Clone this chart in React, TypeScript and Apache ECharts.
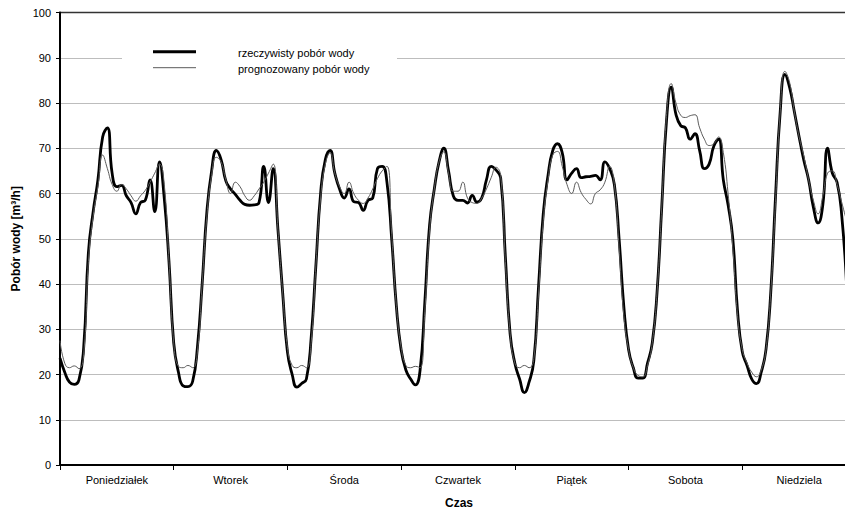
import React, { useEffect, useRef } from "react";
import * as echarts from "echarts";

// Categories (days of the week)
const days = ["Poniedziałek", "Wtorek", "Środa", "Czwartek", "Piątek", "Sobota", "Niedziela"];
const hoursPerDay = 24;
const yTicks = { min: 0, max: 100, step: 10 };

// rzeczywisty pobór wody (hourly, m3/h)
const actualMon = [23.6, 20.5, 18.3, 17.8, 18.8, 26, 47, 56, 63, 72.5, 74.5, 64.5, 61.5, 61.8, 59.5, 58, 55.5, 58, 58.5, 63, 56, 67, 59, 45];
const actualTue = [27, 20.5, 17.5, 17.3, 18.5, 26, 40, 56, 65, 69.5, 67.5, 62.8, 61, 59.8, 58.5, 57.6, 57.4, 57.5, 58, 66, 58, 65.5, 52, 38];
const actualWed = [25, 20, 17.2, 18, 19, 28, 44, 60, 67.5, 69.5, 64.5, 61, 59, 61, 58.2, 58, 56.3, 58.5, 59, 65.5, 66, 62.5, 50, 35];
const actualThu = [25.4, 21, 19, 17.7, 21, 36, 53, 61, 67, 70, 65, 59.5, 58.5, 58.5, 57.9, 59.6, 58.1, 59, 63, 66, 65.2, 63.5, 46, 29];
const actualFri = [22.5, 19, 16, 18.3, 23, 39.5, 55.6, 64, 69.5, 71, 69, 63, 64.5, 65.5, 63.5, 63.7, 63.8, 64, 63, 67, 65.5, 62, 50, 35];
const actualSat = [25.5, 21.5, 19.2, 19.2, 22.5, 27, 38, 57, 76, 83.5, 77.5, 75, 74.5, 72, 73.2, 69.5, 65.5, 66.5, 70.5, 72, 63, 57.5, 50, 34];
const actualSun = [25, 22, 19, 18, 20.5, 25.5, 38, 59, 78, 86.3, 83.4, 78, 72.5, 67.3, 63, 57, 53.5, 57.5, 70, 64.5, 62.5, 55, 40];

// prognozowany pobór wody (hourly, m3/h)
const forecastMon = [27.5, 22.5, 21.5, 21.9, 21.3, 24.5, 45, 55, 61.5, 68.5, 65.5, 62, 60.5, 62, 61, 59.5, 58.3, 59.5, 60.7, 62.5, 64.5, 66.5, 62, 45];
const forecastTue = [27, 21.8, 21.5, 22, 21.5, 25, 40, 55, 64, 68, 67, 63, 60, 62.5, 61.5, 59.5, 58.5, 59.5, 61, 62.5, 64.5, 66.5, 52, 38];
const forecastWed = [26, 22, 21.5, 22, 21.5, 27, 44, 59, 66.5, 69, 64.5, 61.5, 60, 62.5, 60, 58.5, 57.8, 59, 61, 63.3, 65, 66, 51, 35];
const forecastThu = [26, 22, 21.5, 21.8, 21.5, 34, 52, 61, 67, 69.2, 64.5, 60.5, 60.5, 62.5, 59, 58, 57.8, 59, 61, 63.5, 65.8, 64, 45, 29];
const forecastFri = [22.5, 21.5, 22, 21.5, 23.5, 38, 54, 63, 68.5, 69.3, 66, 62, 60, 62.5, 60.2, 58.7, 57.7, 60, 60.8, 62.5, 66, 62, 48, 33];
const forecastSat = [25.5, 21.5, 19.8, 19.5, 22, 27, 38, 57, 77, 84.3, 80, 77.3, 76.8, 77.2, 77.4, 74.5, 72, 70.6, 71, 72.5, 69, 60, 48, 33];
const forecastSun = [25.5, 22.5, 20.5, 19.5, 21, 25.5, 38, 58, 78, 87, 84.5, 78, 72.5, 68.2, 63, 58.5, 55.5, 59.5, 64.5, 65, 62, 58, 54];

const actual = [actualMon, actualTue, actualWed, actualThu, actualFri, actualSat, actualSun].flat();
const forecast = [forecastMon, forecastTue, forecastWed, forecastThu, forecastFri, forecastSat, forecastSun].flat();

const seriesNames = ["rzeczywisty pobór wody", "prognozowany pobór wody"];

const FONT = "'Liberation Sans', Arial, sans-serif";

export default function App() {
  const ref = useRef<HTMLDivElement>(null);

  useEffect(() => {
    document.body.style.margin = "0";
    document.body.style.overflow = "hidden";
    document.documentElement.style.overflow = "hidden";
    if (!ref.current) return;
    const chart = echarts.init(ref.current, undefined, { renderer: "svg" });
    const toPoints = (arr: number[]) => arr.map((v, i) => [i, v]);
    const nLines = (yTicks.max - yTicks.min) / yTicks.step + 1;
    const splitColors = Array.from({ length: nLines }, (_, i) => (i === nLines - 1 ? "#333" : "#bdbdbd"));

    chart.setOption({
      animation: false,
      backgroundColor: "#ffffff",
      textStyle: { fontFamily: FONT },
      grid: {
        left: 60,
        right: 4,
        top: 12.5,
        bottom: 47,
        show: true,
        borderColor: "#333",
        borderWidth: 1.5,
        backgroundColor: "transparent",
      },
      xAxis: [
        {
          type: "category",
          data: days,
          boundaryGap: true,
          axisLine: { lineStyle: { color: "#000", width: 2 } },
          axisTick: { show: true, length: 5, lineStyle: { color: "#000", width: 1 } },
          axisLabel: { fontSize: 11, color: "#000", margin: 9, fontFamily: FONT },
          splitLine: { show: false },
          name: "Czas",
          nameLocation: "start",
          nameGap: -399,
          nameTextStyle: {
            fontSize: 12,
            fontWeight: "bold",
            color: "#000",
            fontFamily: FONT,
            align: "center",
            verticalAlign: "top",
            padding: [32, 0, 0, 0],
          },
        },
        {
          type: "value",
          min: 0,
          max: days.length * hoursPerDay,
          show: false,
          splitLine: { show: false },
        },
      ],
      yAxis: {
        type: "value",
        min: yTicks.min,
        max: yTicks.max,
        interval: yTicks.step,
        axisLine: { show: true, lineStyle: { color: "#000", width: 2 } },
        axisTick: { show: true, length: 4, lineStyle: { color: "#000", width: 1 } },
        axisLabel: { fontSize: 11, color: "#000", margin: 9, fontFamily: FONT },
        splitLine: { show: true, lineStyle: { color: splitColors, width: 1 } },
        name: "Pobór wody [m³/h]",
        nameLocation: "middle",
        nameRotate: 90,
        nameGap: 38,
        nameTextStyle: { fontSize: 12, fontWeight: "bold", color: "#000", fontFamily: FONT },
      },
      series: [
        {
          name: seriesNames[0],
          type: "line",
          xAxisIndex: 1,
          data: toPoints(actual),
          smooth: true,
          showSymbol: false,
          symbol: "none",
          lineStyle: { color: "#000", width: 2.8 },
          z: 3,
        },
        {
          name: seriesNames[1],
          type: "line",
          xAxisIndex: 1,
          data: toPoints(forecast),
          smooth: true,
          showSymbol: false,
          symbol: "none",
          lineStyle: { color: "#5a5a5a", width: 1 },
          z: 4,
        },
      ],
      graphic: [
        {
          type: "rect",
          left: 122,
          top: 42,
          shape: { width: 275, height: 36 },
          style: { fill: "#fff" },
          z: 10,
        },
        {
          type: "line",
          shape: { x1: 153, y1: 51.7, x2: 196, y2: 51.7 },
          style: { stroke: "#000", lineWidth: 3 },
          z: 11,
        },
        {
          type: "line",
          shape: { x1: 153, y1: 67.7, x2: 196, y2: 67.7 },
          style: { stroke: "#5a5a5a", lineWidth: 1 },
          z: 11,
        },
        {
          type: "text",
          x: 238,
          y: 52.5,
          style: { text: seriesNames[0], fontSize: 11, fontFamily: FONT, fill: "#000", verticalAlign: "middle" },
          z: 11,
        },
        {
          type: "text",
          x: 238,
          y: 69,
          style: { text: seriesNames[1], fontSize: 11, fontFamily: FONT, fill: "#000", verticalAlign: "middle" },
          z: 11,
        },
      ],
    });

    return () => chart.dispose();
  }, []);

  return <div ref={ref} style={{ position: "fixed", left: 0, top: 0, width: 860, height: 512 }} />;
}
